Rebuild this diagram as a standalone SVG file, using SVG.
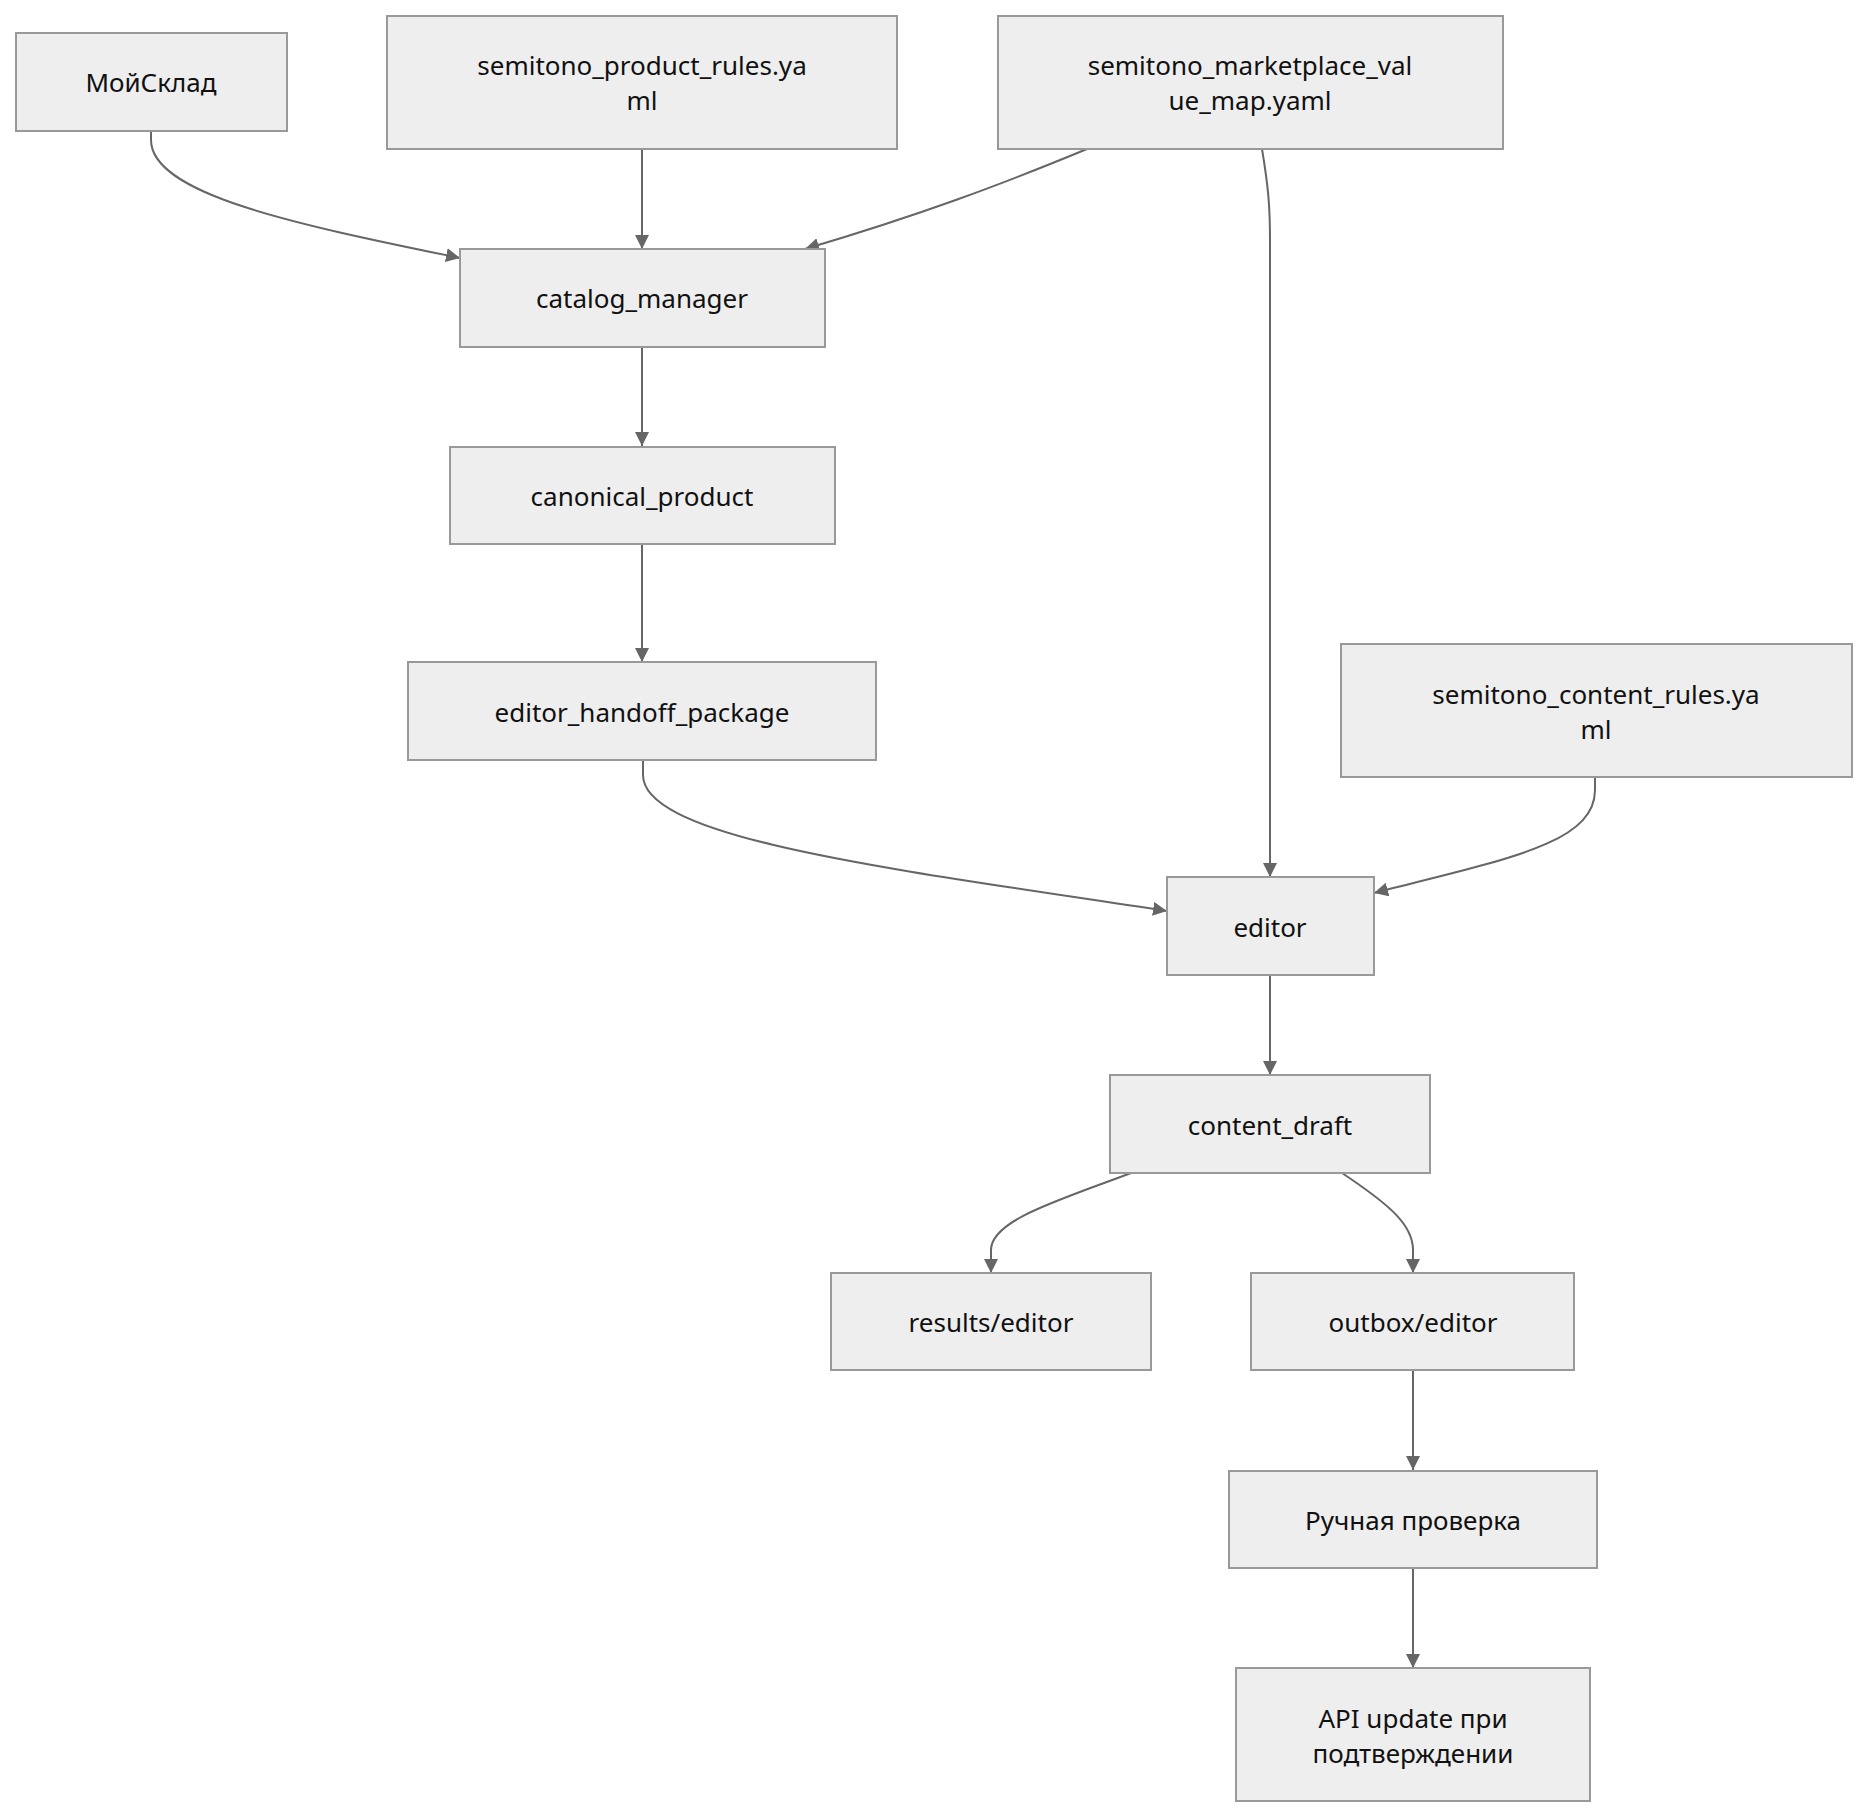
<svg xmlns="http://www.w3.org/2000/svg" width="1867" height="1818" viewBox="0 0 1867 1818">
<style>
.n rect{fill:#eeeeee;stroke:#999999;stroke-width:2}
.n text{font-family:"Noto Sans","DejaVu Sans",sans-serif;font-size:26px;fill:#111;text-anchor:middle;dominant-baseline:central}
.e path{fill:none;stroke:#666666;stroke-width:2;marker-end:url(#a)}
</style>
<defs><marker id="a" viewBox="0 0 10 10" refX="10" refY="5" markerWidth="14" markerHeight="14" markerUnits="userSpaceOnUse" orient="auto"><path d="M0,0 L10,5 L0,10 z" fill="#666666"/></marker></defs>
<rect width="1867" height="1818" fill="#ffffff"/>
<g class="e" id="edges">
<path d="M151,131 L151,140 C151,195 300,225 460,258"/>
<path d="M642,149 L642,249"/>
<path d="M1087,149 C1000,185 920,215 805,249"/>
<path d="M1262,149 C1268,185 1270,205 1270,240 L1270,877"/>
<path d="M642,346 L642,446"/>
<path d="M642,544 L642,662"/>
<path d="M643,760 L643,775 C643,840 900,870 1167,911"/>
<path d="M1595,777 L1595,790 C1595,845 1500,860 1374,893"/>
<path d="M1270,975 L1270,1075"/>
<path d="M1131,1173 C1060,1200 991,1220 991,1250 L991,1273"/>
<path d="M1342,1173 C1390,1205 1413,1225 1413,1250 L1413,1273"/>
<path d="M1413,1370 L1413,1470"/>
<path d="M1413,1568 L1413,1668"/>
</g>
<g class="n" id="n1"><rect x="16" y="33" width="271" height="98"/><text x="151" y="82">МойСклад</text></g>
<g class="n" id="n2"><rect x="387" y="16" width="510" height="133"/><text x="642" y="65">semitono_product_rules.ya</text><text x="642" y="100">ml</text></g>
<g class="n" id="n3"><rect x="998" y="16" width="505" height="133"/><text x="1250" y="65">semitono_marketplace_val</text><text x="1250" y="100">ue_map.yaml</text></g>
<g class="n" id="n4"><rect x="460" y="249" width="365" height="98"/><text x="642" y="298">catalog_manager</text></g>
<g class="n" id="n5"><rect x="450" y="447" width="385" height="97"/><text x="642" y="496">canonical_product</text></g>
<g class="n" id="n6"><rect x="408" y="662" width="468" height="98"/><text x="642" y="712">editor_handoff_package</text></g>
<g class="n" id="n7"><rect x="1341" y="644" width="511" height="133"/><text x="1596" y="694">semitono_content_rules.ya</text><text x="1596" y="729">ml</text></g>
<g class="n" id="n8"><rect x="1167" y="877" width="207" height="98"/><text x="1270" y="927">editor</text></g>
<g class="n" id="n9"><rect x="1110" y="1075" width="320" height="98"/><text x="1270" y="1125">content_draft</text></g>
<g class="n" id="n10"><rect x="831" y="1273" width="320" height="97"/><text x="991" y="1322">results/editor</text></g>
<g class="n" id="n11"><rect x="1251" y="1273" width="323" height="97"/><text x="1413" y="1322">outbox/editor</text></g>
<g class="n" id="n12"><rect x="1229" y="1471" width="368" height="97"/><text x="1413" y="1520">Ручная проверка</text></g>
<g class="n" id="n13"><rect x="1236" y="1668" width="354" height="133"/><text x="1413" y="1718">API update при</text><text x="1413" y="1753">подтверждении</text></g>
</svg>
